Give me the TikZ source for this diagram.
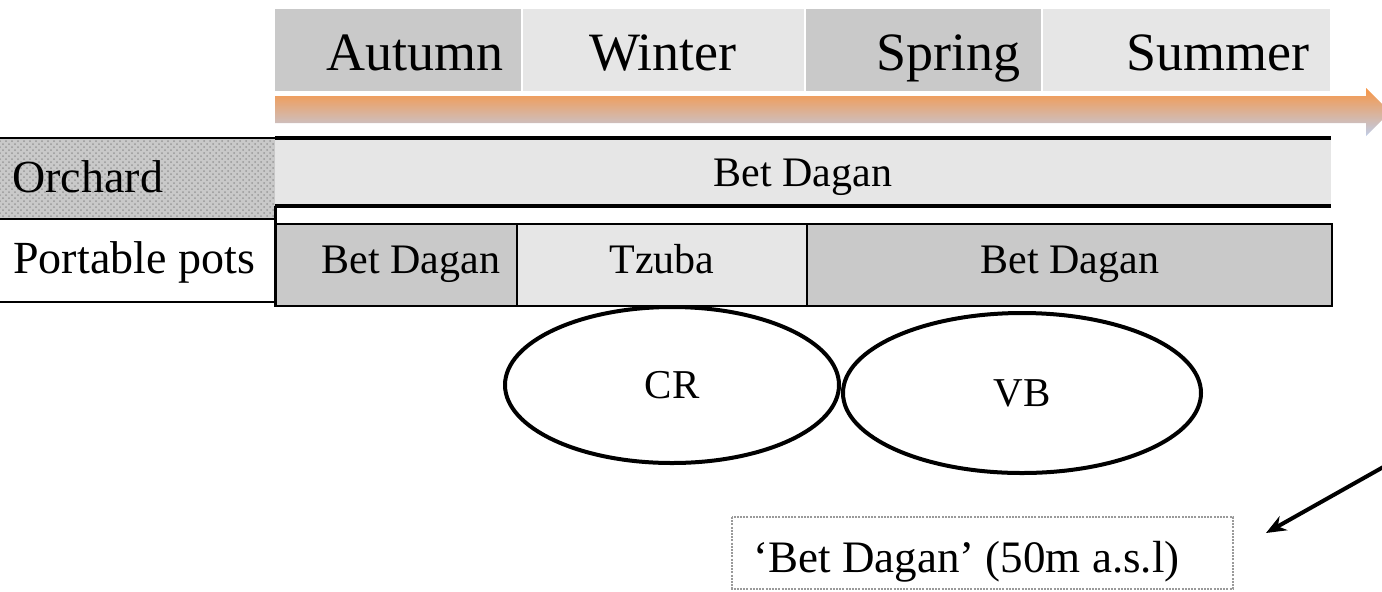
\documentclass[tikz,border=0pt]{standalone}
\usepackage{fontspec}
\setmainfont{Liberation Serif}
\usetikzlibrary{arrows.meta,patterns,shapes.geometric}
\definecolor{lgray}{HTML}{E6E6E6}
\definecolor{mgray}{HTML}{C9C9C9}
\definecolor{arrorange}{HTML}{F79646}
\definecolor{arrmid}{HTML}{EFA26A}
\definecolor{arrblue}{HTML}{BFCDE8}
\definecolor{dotgray}{HTML}{9A9A9A}
\begin{document}
\begin{tikzpicture}[x=0.5pt,y=-0.5pt,
  txt/.style={inner sep=0pt, anchor=base},
  season/.style={txt, font=\fontsize{27}{30}\selectfont},
  rowlabel/.style={txt, anchor=base west, font=\fontsize{23}{26}\selectfont},
  cell/.style={txt, font=\fontsize{21}{24}\selectfont},
  thickline/.style={line width=2pt, black},
  cellbox/.style={draw=black, line width=1pt},
  oval/.style={ellipse, draw=black, line width=2pt, inner sep=0pt, font=\fontsize{20.5}{24}\selectfont},
  notebox/.style={draw=dotgray, line width=0.7pt, dash pattern=on 1pt off 0.6pt},
  pointer/.style={line width=2pt, -{Stealth[length=10pt,width=8pt]}}
]
\useasboundingbox (0,0) rectangle (1382,591);
\clip (0,0) rectangle (1382,591);

% seasons
\fill[mgray] (275,9) rectangle (521,91);
\fill[lgray] (523,9) rectangle (804,91);
\fill[mgray] (806,9) rectangle (1041,91);
\fill[lgray] (1043,9) rectangle (1330,91);
\node[season] (autumn) at (415,70) {Autumn};
\node[season] (winter) at (663,70) {Winter};
\node[season] (spring) at (948,70) {Spring};
\node[season] (summer) at (1218,70) {Summer};

% time arrow
\shade[top color=arrorange, middle color=arrmid, bottom color=arrblue]
  (275,96) -- (1366,96) -- (1366,88) -- (1390,112) -- (1366,136) -- (1366,123) -- (275,123) -- cycle;

% orchard row
\fill[lgray] (275,138) rectangle (1331,206);
\draw[thickline] (275,138) -- (1331,138);
\draw[thickline] (275,206) -- (1331,206);
\node[cell] (orchbd) at (803,186) {Bet Dagan};

\fill[mgray] (0,138) rectangle (275,219);
\fill[pattern=crosshatch dots, pattern color=gray!80] (0,138) rectangle (275,219);
\draw[line width=0.8pt] (0,138) -- (275,138);
\draw[line width=1pt] (0,219) -- (275,219);
\node[rowlabel] (orchard) at (12,192) {Orchard};

% portable pots row
\draw[line width=1pt] (0,302) -- (275,302);
\node[rowlabel] (pots) at (13,273) {Portable pots};
\draw[line width=1.5pt] (275,206) -- (275,224);
\filldraw[fill=mgray, cellbox] (275,224) rectangle (517,306);
\filldraw[fill=lgray, cellbox] (517,224) rectangle (807,306);
\filldraw[fill=mgray, cellbox] (807,224) rectangle (1332,306);
\draw[line width=1.5pt] (275,224) -- (275,307);
\node[cell] (bd1) at (411,273) {Bet Dagan};
\node[cell] (tz) at (662,273) {Tzuba};
\node[cell] (bd2) at (1070,273) {Bet Dagan};

% ellipses
\node[oval, minimum width=167pt, minimum height=78pt] (cr) at (672,385) {CR};
\node[oval, minimum width=179pt, minimum height=80pt] (vb) at (1022,393) {VB};

% note
\draw[notebox] (732,517) rectangle (1233,589);
\node[txt, anchor=base west, font=\fontsize{22.5}{26}\selectfont] (note) at (753,572) {‘Bet Dagan’ (50m a.s.l)};

% pointer arrow
\coordinate (arrS) at (1394,461);
\coordinate (arrE) at (1266,533);
\draw[pointer] (arrS) -- (arrE);
\end{tikzpicture}
\end{document}
